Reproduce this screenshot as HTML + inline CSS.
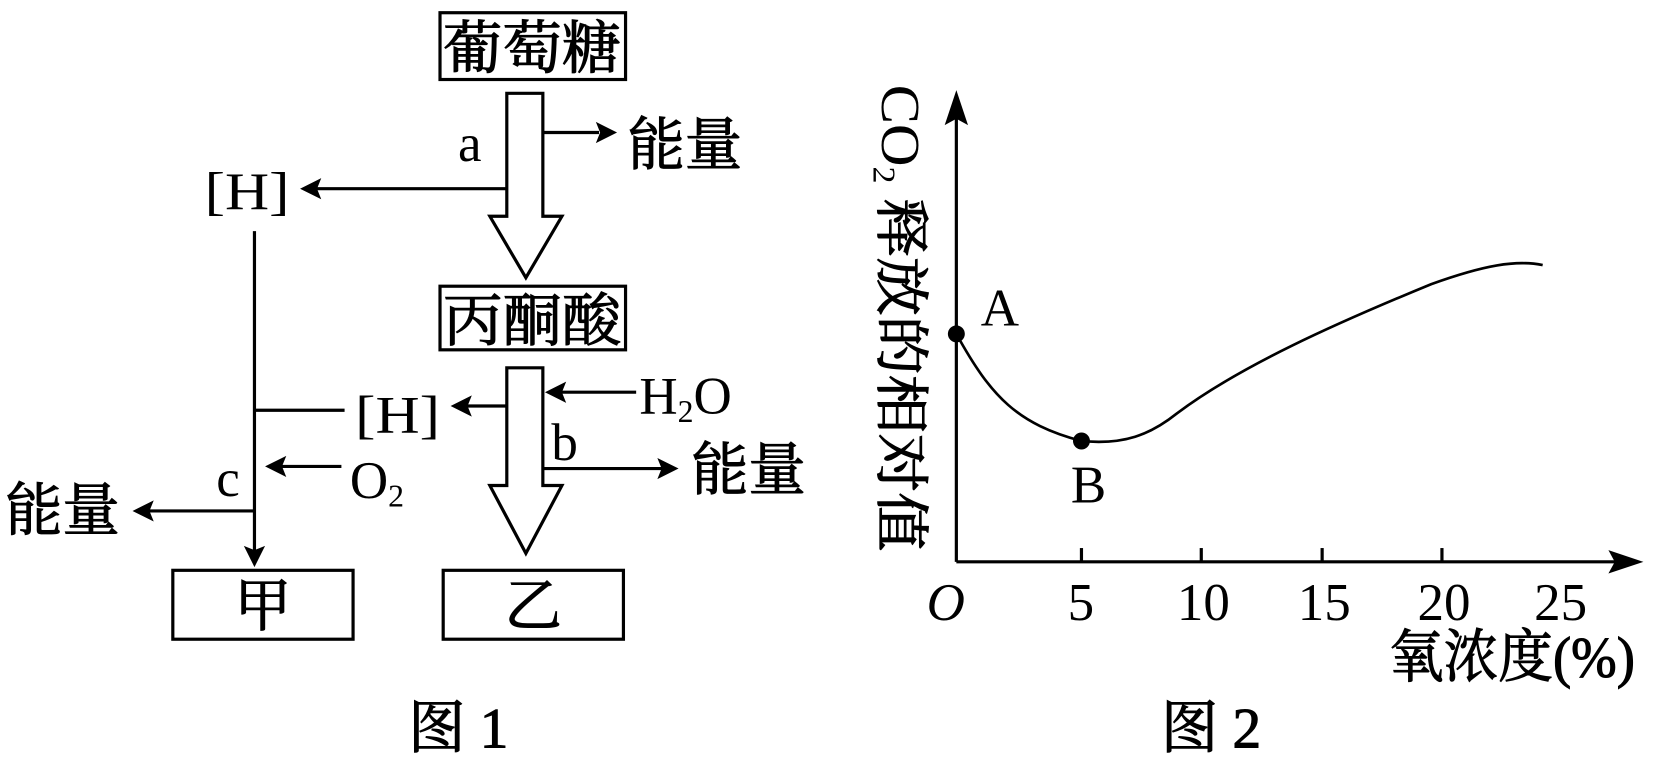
<!DOCTYPE html>
<html><head><meta charset="utf-8"><style>
html,body{margin:0;padding:0;background:#fff;}
svg{display:block;}
text{font-family:"Liberation Serif","Noto Serif CJK SC",serif;fill:#000;}
.c{stroke:#000;stroke-width:1;}
</style></head><body>
<svg width="1654" height="759" viewBox="0 0 1560 716" preserveAspectRatio="none" xmlns="http://www.w3.org/2000/svg">
<g stroke="#000" stroke-width="3" fill="none">
<rect x="415" y="12" width="175" height="63"/>
<rect x="415" y="270" width="175" height="60"/>
<rect x="163" y="538" width="170" height="65"/>
<rect x="418" y="538" width="170" height="65"/>
<path d="M478,88 L512,88 L512,204 L530,204 L496,262 L462,204 L478,204 Z"/>
<path d="M478,347 L512,347 L512,458 L530,458 L496,522 L462,458 L478,458 Z"/>
<line x1="512" y1="125" x2="565" y2="125"/>
<line x1="478" y1="178" x2="298" y2="178"/>
<line x1="600" y1="370" x2="528" y2="370"/>
<line x1="478" y1="383" x2="440" y2="383"/>
<line x1="512" y1="442" x2="625" y2="442"/>
<line x1="240" y1="218" x2="240" y2="520"/>
<line x1="240" y1="387" x2="325" y2="387"/>
<line x1="322" y1="440" x2="265" y2="440"/>
<line x1="240" y1="482" x2="140" y2="482"/>
<line x1="902" y1="530" x2="902" y2="100"/>
<line x1="902" y1="530" x2="1535" y2="530"/>
<line x1="1020" y1="530" x2="1020" y2="517"/>
<line x1="1133" y1="530" x2="1133" y2="517"/>
<line x1="1247" y1="530" x2="1247" y2="517"/>
<line x1="1360" y1="530" x2="1360" y2="517"/>
<path d="M902,315 C935,375 960,400 1020,416 C1060,420 1085,410 1110,390 C1170,345 1260,305 1350,268 C1400,250 1430,245 1455,250" stroke-width="2.5"/>
</g>
<g fill="#000">
<polygon points="582,125 562,115 566,125 562,135"/>
<polygon points="283,178 303,168 299,178 303,188"/>
<polygon points="514,370 534,360 530,370 534,380"/>
<polygon points="425,383 445,373 441,383 445,393"/>
<polygon points="640,442 620,432 624,442 620,452"/>
<polygon points="240,535 230,515 240,519 250,515"/>
<polygon points="250,440 270,430 266,440 270,450"/>
<polygon points="125,482 145,472 141,482 145,492"/>
<polygon points="902,85 891,118 902,112 913,118"/>
<polygon points="1550,530 1517,519 1523,530 1517,541"/>
<circle cx="902" cy="315" r="8"/>
<circle cx="1020" cy="416" r="8"/>
</g>
<g font-size="54" class="c">
<text x="418" y="64" textLength="168" lengthAdjust="spacingAndGlyphs">葡萄糖</text>
<text x="418" y="321" textLength="168" lengthAdjust="spacingAndGlyphs">丙酮酸</text>
<text x="592" y="155">能量</text>
<text x="652" y="462">能量</text>
<text x="5" y="500">能量</text>
<text x="221" y="590">甲</text>
<text x="476" y="590">乙</text>
<text x="385" y="705">图 1</text>
<text x="1095" y="705">图 2</text>
<text x="1310" y="638" textLength="232" lengthAdjust="spacingAndGlyphs">氧浓度(%)</text>
</g>
<g font-size="50">
<text x="432" y="152">a</text>
<text x="193" y="197" textLength="80" lengthAdjust="spacingAndGlyphs">[H]</text>
<text x="335" y="408" textLength="80" lengthAdjust="spacingAndGlyphs">[H]</text>
<text x="603" y="390">H<tspan font-size="30" dy="8">2</tspan><tspan dy="-8">O</tspan></text>
<text x="520" y="434">b</text>
<text x="204" y="468">c</text>
<text x="330" y="470">O<tspan font-size="30" dy="8">2</tspan></text>
<text x="874" y="585" font-style="italic">O</text>
<text x="1007" y="585">5</text>
<text x="1110" y="585">10</text>
<text x="1224" y="585">15</text>
<text x="1337" y="585">20</text>
<text x="1447" y="585">25</text>
<text x="925" y="307">A</text>
<text x="1010" y="474">B</text>
</g>
<text font-size="52" transform="translate(832,80) rotate(90)" textLength="440" lengthAdjust="spacingAndGlyphs">CO<tspan font-size="30" dy="8">2</tspan><tspan dy="-8" class="c"> 释放的相对值</tspan></text>
</svg>
</body></html>
